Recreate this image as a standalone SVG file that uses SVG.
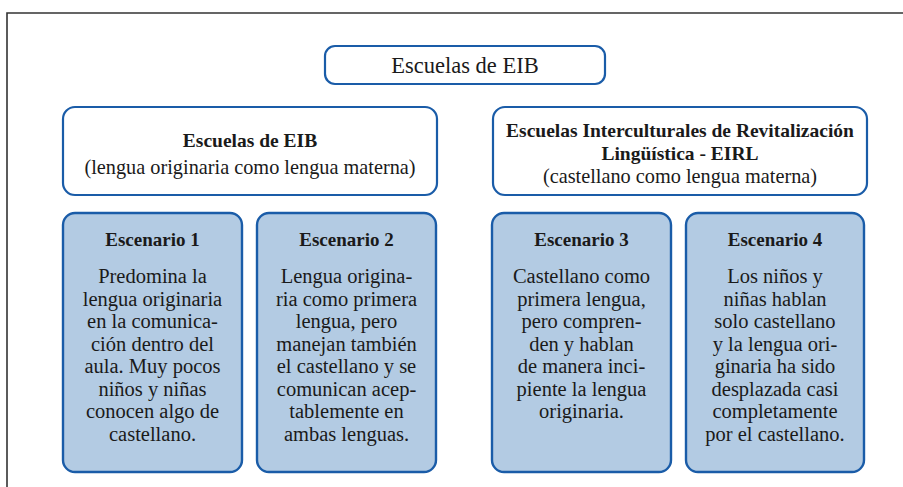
<svg xmlns="http://www.w3.org/2000/svg" width="903" height="487" viewBox="0 0 903 487">
<style>
  .frame { fill: none; stroke: #333; stroke-width: 1.6; }
  .box { fill: #fff; stroke: #1a5ca8; stroke-width: 2.2; }
  .scn { fill: #b3cbe3; stroke: #1a5ca8; stroke-width: 2.4; }
  text { font-family: "Liberation Serif", "DejaVu Serif", serif; fill: #1a1a1a; text-anchor: middle; }
  .top { font-size: 22.5px; }
  .h { font-size: 19.5px; font-weight: bold; }
  .sub { font-size: 20.3px; }
  .t { font-size: 19px; font-weight: bold; }
  .b { font-size: 20.5px; }
</style>
<rect x="0" y="0" width="903" height="487" fill="#fff"/>
<path class="frame" d="M7,490 V13 H910"/>

<g id="root">
  <rect class="box" x="325" y="46" width="280" height="38" rx="10"/>
  <text class="top" x="465" y="73">Escuelas de EIB</text>
</g>

<g id="eib">
  <rect class="box" x="63" y="107" width="374" height="88" rx="12"/>
  <text class="h" x="250" y="147">Escuelas de EIB</text>
  <text class="sub" x="250" y="174">(lengua originaria como lengua materna)</text>
</g>

<g id="eirl">
  <rect class="box" x="493" y="107" width="374" height="88" rx="12"/>
  <text class="h" x="680" y="137">Escuelas Interculturales de Revitalización</text>
  <text class="h" x="680" y="160">Lingüística - EIRL</text>
  <text class="sub" x="680" y="183">(castellano como lengua materna)</text>
</g>

<g id="esc1">
  <rect class="scn" x="63" y="213" width="179" height="259" rx="12"/>
  <text class="t" x="152.5" y="246">Escenario 1</text>
  <text class="b" x="152.5" y="283">Predomina la</text>
  <text class="b" x="152.5" y="305.5">lengua originaria</text>
  <text class="b" x="152.5" y="328">en la comunica-</text>
  <text class="b" x="152.5" y="350.5">ción dentro del</text>
  <text class="b" x="152.5" y="373">aula. Muy pocos</text>
  <text class="b" x="152.5" y="395.5">niños y niñas</text>
  <text class="b" x="152.5" y="418">conocen algo de</text>
  <text class="b" x="152.5" y="440.5">castellano.</text>
</g>

<g id="esc2">
  <rect class="scn" x="257" y="213" width="179" height="259" rx="12"/>
  <text class="t" x="346.5" y="246">Escenario 2</text>
  <text class="b" x="346.5" y="283">Lengua origina-</text>
  <text class="b" x="346.5" y="305.5">ria como primera</text>
  <text class="b" x="346.5" y="328">lengua, pero</text>
  <text class="b" x="346.5" y="350.5">manejan también</text>
  <text class="b" x="346.5" y="373">el castellano y se</text>
  <text class="b" x="346.5" y="395.5">comunican acep-</text>
  <text class="b" x="346.5" y="418">tablemente en</text>
  <text class="b" x="346.5" y="440.5">ambas lenguas.</text>
</g>

<g id="esc3">
  <rect class="scn" x="492" y="213" width="179" height="259" rx="12"/>
  <text class="t" x="581.5" y="246">Escenario 3</text>
  <text class="b" x="581.5" y="283">Castellano como</text>
  <text class="b" x="581.5" y="305.5">primera lengua,</text>
  <text class="b" x="581.5" y="328">pero compren-</text>
  <text class="b" x="581.5" y="350.5">den y hablan</text>
  <text class="b" x="581.5" y="373">de manera inci-</text>
  <text class="b" x="581.5" y="395.5">piente la lengua</text>
  <text class="b" x="581.5" y="418">originaria.</text>
</g>

<g id="esc4">
  <rect class="scn" x="686" y="213" width="178" height="259" rx="12"/>
  <text class="t" x="775" y="246">Escenario 4</text>
  <text class="b" x="775" y="283">Los niños y</text>
  <text class="b" x="775" y="305.5">niñas hablan</text>
  <text class="b" x="775" y="328">solo castellano</text>
  <text class="b" x="775" y="350.5">y la lengua ori-</text>
  <text class="b" x="775" y="373">ginaria ha sido</text>
  <text class="b" x="775" y="395.5">desplazada casi</text>
  <text class="b" x="775" y="418">completamente</text>
  <text class="b" x="775" y="440.5">por el castellano.</text>
</g>

<g id="connectors"></g>
</svg>
